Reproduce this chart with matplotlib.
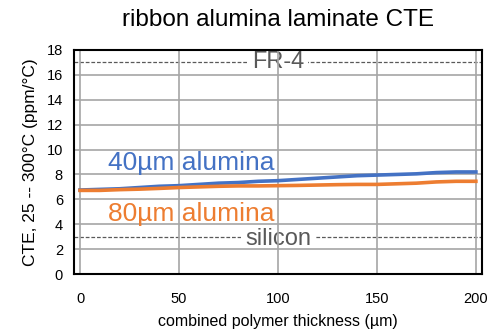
import matplotlib
matplotlib.use("Agg")
import matplotlib.pyplot as plt

plt.rcParams['font.family'] = ['Liberation Sans', 'DejaVu Sans']

thickness = [0, 10, 20, 30, 40, 50, 60, 70, 80, 90, 100, 110, 120, 130, 140, 150, 160, 170, 180, 190, 200]
cte_40um = [6.75, 6.8, 6.85, 6.95, 7.05, 7.1, 7.2, 7.3, 7.35, 7.45, 7.5, 7.6, 7.7, 7.8, 7.9, 7.95, 8.0, 8.05, 8.15, 8.2, 8.2]
cte_80um = [6.72, 6.72, 6.78, 6.82, 6.88, 6.95, 7.0, 7.05, 7.08, 7.08, 7.1, 7.12, 7.15, 7.18, 7.2, 7.2, 7.25, 7.3, 7.4, 7.45, 7.45]
fr4_cte = 17
silicon_cte = 3

fig = plt.figure(figsize=(5.04, 3.33), dpi=100)
ax = fig.add_axes([0.147, 0.177, 0.809, 0.673])

# grid above the white label boxes, dashed reference lines below them
ax.set_axisbelow('line')
ax.grid(True, color='#a6a6a6', linewidth=1.2)
ax.axhline(fr4_cte, color='#595959', linestyle='--', dashes=(3, 1.5), linewidth=0.9, zorder=0.8)
ax.axhline(silicon_cte, color='#595959', linestyle='--', dashes=(3, 1.5), linewidth=0.9, zorder=0.8)
ax.plot(thickness, cte_40um, color='#4472c4', linewidth=2.6, zorder=3)
ax.plot(thickness, cte_80um, color='#ed7d31', linewidth=2.6, zorder=3)

box = dict(facecolor='white', edgecolor='none', pad=3)
ax.text(100, fr4_cte, 'FR-4', color='#595959', fontsize=17, ha='center', va='center', bbox=box, zorder=1)
ax.text(100, silicon_cte - 0.15, 'silicon', color='#595959', fontsize=17, ha='center', va='center', bbox=box, zorder=1)
ax.text(56, 8.95, '40\u00b5m alumina', color='#4472c4', fontsize=19, ha='center', va='center', zorder=4)
ax.text(56, 4.85, '80\u00b5m alumina', color='#ed7d31', fontsize=19, ha='center', va='center', zorder=4)

ax.set_xlim(-3, 203)
ax.set_ylim(0, 18)
ax.set_xticks([0, 50, 100, 150, 200])
ax.set_yticks(range(0, 19, 2))
ax.tick_params(length=0, labelsize=10.5)
ax.tick_params(axis='x', pad=13)
ax.tick_params(axis='y', pad=8)
for s in ax.spines.values():
    s.set_linewidth(1.5)
    s.set_color('black')

ax.set_title('ribbon alumina laminate CTE', fontsize=17.5, pad=17)
ax.set_xlabel('combined polymer thickness (\u00b5m)', fontsize=11.5, labelpad=6)
ax.set_ylabel('CTE, 25 -- 300\u00b0C (ppm/\u00b0C)', fontsize=12.5, labelpad=6)

fig.savefig('out.png', dpi=100)
